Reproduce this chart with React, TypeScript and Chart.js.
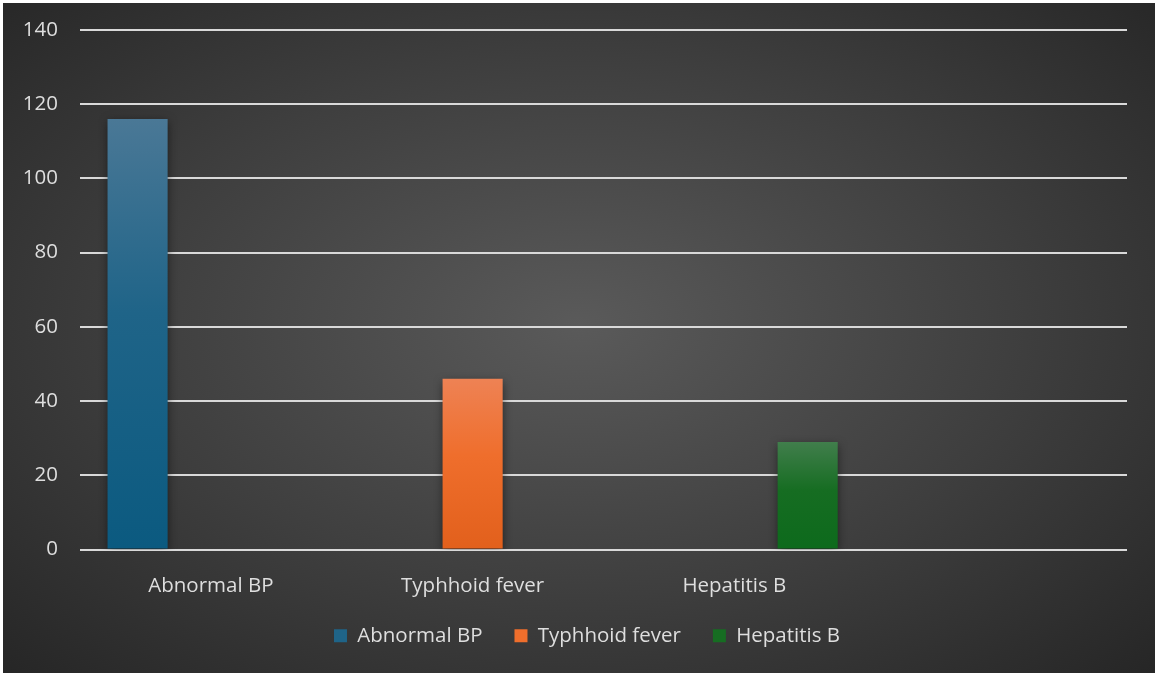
import React, { useEffect, useRef } from "react";
import { Chart, registerables } from "chart.js";

Chart.register(...registerables);

const categories = ["Abnormal BP", "Typhhoid fever", "Hepatitis B", ""];
const seriesNames = ["Abnormal BP", "Typhhoid fever", "Hepatitis B"];
const abnormalBP = [116, null, null, null];
const typhoidFever = [null, 46, null, null];
const hepatitisB = [null, null, 29, null];
const yTicks = [0, 20, 40, 60, 80, 100, 120, 140];

const FONT = "'Open Sans', 'DejaVu Sans', sans-serif";
const FONT_SIZE = 20.5;
const TEXT = "#dedede";

const palettes = [
  { top: "#4a7896", bottom: "#0b5a80", flat: "#1f6488" },
  { top: "#ee8254", bottom: "#e2601c", flat: "#ef6e2c" },
  { top: "#417e4c", bottom: "#0d6a1c", flat: "#166d22" },
];

function gradientFor(idx: number) {
  return (ctx: any) => {
    const chart = ctx.chart;
    const p = palettes[idx];
    const y = chart.scales?.y;
    if (!chart.chartArea || !y || ctx.raw == null) return p.flat;
    const top = y.getPixelForValue(ctx.raw);
    const bottom = y.getPixelForValue(0);
    if (!isFinite(top) || !isFinite(bottom) || top === bottom) return p.flat;
    const g = chart.ctx.createLinearGradient(0, top, 0, bottom);
    g.addColorStop(0, p.top);
    g.addColorStop(0.45, p.flat);
    g.addColorStop(1, p.bottom);
    return g;
  };
}

const shadowPlugin = {
  id: "barShadow",
  beforeDatasetsDraw(chart: any) {
    const c = chart.ctx;
    c.save();
    c.shadowColor = "rgba(0,0,0,0.55)";
    c.shadowBlur = 9;
    c.shadowOffsetX = 0;
    c.shadowOffsetY = 3;
  },
  afterDatasetsDraw(chart: any) {
    chart.ctx.restore();
  },
};

const legendShiftPlugin = {
  id: "legendShift",
  afterLayout(chart: any) {
    const lg = chart.legend;
    if (lg) {
      lg.left += 22;
      lg.right += 22;
      lg.top -= 6;
      lg.bottom -= 6;
    }
  },
};

export default function App() {
  const ref = useRef<HTMLCanvasElement | null>(null);

  useEffect(() => {
    document.body.style.margin = "0";
    const canvas = ref.current;
    if (!canvas) return;
    const seriesData = [abnormalBP, typhoidFever, hepatitisB];
    const chart = new Chart(canvas, {
      type: "bar",
      data: {
        labels: categories,
        datasets: seriesNames.map((name, i) => ({
          label: name,
          data: seriesData[i],
          backgroundColor: gradientFor(i),
          borderWidth: 0,
          categoryPercentage: 0.84,
          barPercentage: 0.82,
        })),
      },
      options: {
        responsive: false,
        animation: false,
        layout: { padding: { left: 0, right: 28, top: 27, bottom: 11 } },
        plugins: {
          tooltip: { enabled: false },
          legend: {
            position: "bottom",
            labels: {
              color: TEXT,
              font: { family: FONT, size: FONT_SIZE },
              boxWidth: 13,
              boxHeight: 13,
              padding: 32,
              generateLabels: (ch: any) =>
                ch.data.datasets.map((ds: any, i: number) => ({
                  text: ds.label,
                  fillStyle: palettes[i].flat,
                  strokeStyle: palettes[i].flat,
                  lineWidth: 0,
                  fontColor: TEXT,
                  hidden: false,
                  datasetIndex: i,
                })),
            },
          },
        },
        scales: {
          x: {
            grid: { display: false, drawTicks: false },
            border: { display: false },
            ticks: {
              color: TEXT,
              font: { family: FONT, size: FONT_SIZE },
              padding: 24,
              maxRotation: 0,
            },
            afterFit: (s: any) => {
              s.height = 50;
            },
          },
          y: {
            min: 0,
            max: 140,
            afterBuildTicks: (s: any) => {
              s.ticks = yTicks.map((v) => ({ value: v }));
            },
            grid: { color: "#d9d9d9", lineWidth: 2, drawTicks: false },
            border: { display: false },
            ticks: {
              color: TEXT,
              font: { family: FONT, size: FONT_SIZE },
              padding: 22,
            },
            afterFit: (s: any) => {
              s.width = 77;
              s.paddingTop = 0;
              s.paddingBottom = 0;
            },
          },
        },
      },
      plugins: [shadowPlugin, legendShiftPlugin],
    });
    return () => chart.destroy();
  }, []);

  return (
    <div
      style={{
        position: "fixed",
        left: 3,
        top: 3,
        width: 1152,
        height: 670,
        background:
          "radial-gradient(ellipse at 50% 48%, #5a5a5a 0%, #3e3e3e 55%, #262626 100%)",
      }}
    >
      <canvas ref={ref} width={1152} height={670} style={{ display: "block" }} />
    </div>
  );
}
